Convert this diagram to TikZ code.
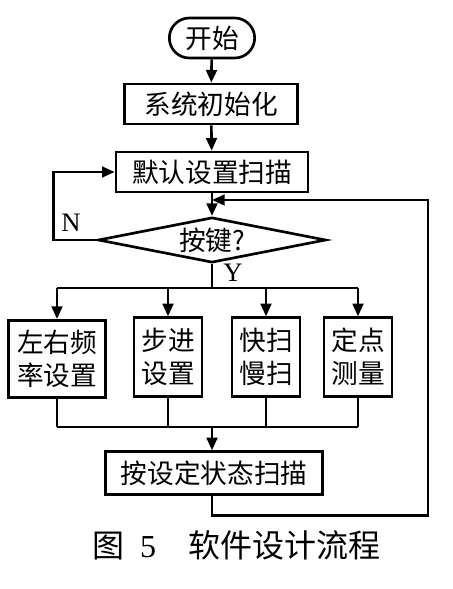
\documentclass[tikz,border=0pt]{standalone}
\usepackage{fontspec}
\setmainfont{Liberation Serif}
\newfontfamily\cjk{Noto Sans CJK SC}
\usetikzlibrary{arrows.meta,shapes.geometric}

\begin{document}
\begin{tikzpicture}[x=0.75pt,y=0.75pt,line width=2pt,
  box/.style={draw,font=\cjk\fontsize{20}{25}\selectfont,inner sep=2pt,align=center},
  arr/.style={-{Triangle[length=9.5pt,width=8pt]}},
  tag/.style={font=\fontsize{20}{24}\selectfont}]
  \useasboundingbox (0,0) rectangle (453,-589);
  % boxes
  \node[box,rounded corners=15pt,minimum width=64pt,minimum height=30pt] (start) at (212,-38) {开始};
  \node[box,minimum width=130pt,minimum height=30pt] (init) at (211,-104) {系统初始化};
  \node[box,minimum width=144pt,minimum height=30pt] (default) at (212,-172) {默认设置扫描};
  \node[box,shape=diamond,aspect=5,inner sep=0pt,minimum width=171pt,minimum height=34pt] (key) at (212,-240) {按键?};
  \node[box,minimum width=73pt,minimum height=58pt] (lr) at (57,-359) {左右频\\率设置};
  \node[box,minimum width=51pt,minimum height=59pt] (step) at (168,-357) {步进\\设置};
  \node[box,minimum width=51pt,minimum height=59pt] (fast) at (266,-357) {快扫\\慢扫};
  \node[box,minimum width=51pt,minimum height=59pt] (fix) at (358,-357) {定点\\测量};
  \node[box,minimum width=163pt,minimum height=32pt] (run) at (214,-473) {按设定状态扫描};
  \node[tag] (no) at (71,-223) {N};
  \node[tag] (yes) at (233,-273) {Y};
  \coordinate (merge) at (212,-200);
  \coordinate (ybus) at (212,-288);
  \coordinate (obus) at (212,-427);
  \coordinate (rail) at (428,-200);
  % connectors
  \draw[arr] (start) -- (init);
  \draw[arr] (init) -- (default);
  \draw[arr] (default.south) -- (key.north);
  \draw[arr] (key.west) -- ++(-43,0) |- (default.west);
  \draw (key.south) -- (ybus);
  \draw (lr.north |- ybus) -- (fix.north |- ybus);
  \foreach \b in {lr,step,fast,fix}
    \draw[arr] (\b.north |- ybus) -- (\b.north);
  \foreach \b in {lr,step,fast,fix}
    \draw (\b.south) -- (\b.south |- obus);
  \draw (lr.south |- obus) -- (fix.south |- obus);
  \draw[arr] (obus) -- (run.north -| obus);
  \draw[arr] (run.south -| obus) -- ++(0,-20) -| (rail) -- (merge);
  % caption
  \node[font=\fontsize{24}{28}\selectfont] (caption) at (236,-545) {{\cjk 图}\enspace 5\quad{\cjk 软件设计流程}};
\end{tikzpicture}
\end{document}
